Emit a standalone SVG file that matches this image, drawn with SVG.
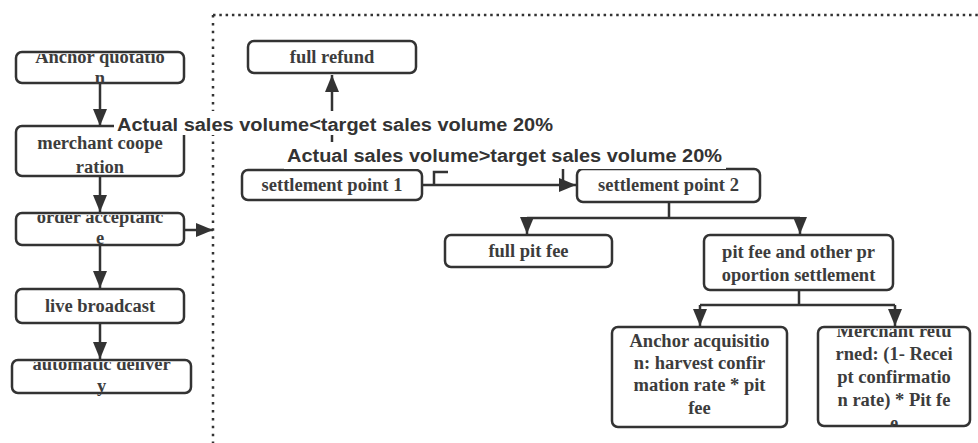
<svg xmlns="http://www.w3.org/2000/svg" width="978" height="443" viewBox="0 0 978 443">
<style>
.box{fill:#fff;stroke:#333;stroke-width:2.5}
.t{font-family:"Liberation Serif","Times New Roman",serif;font-weight:bold;font-size:18.5px;fill:#3c3c3c;text-anchor:middle}
.lbl{font-family:"Liberation Sans",Arial,sans-serif;font-weight:bold;font-size:18px;fill:#333}
.c{fill:none;stroke:#333;stroke-width:2.5}
.bg{fill:#fff}
</style>
<defs>
<marker id="ah" markerUnits="userSpaceOnUse" markerWidth="18" markerHeight="14" refX="17" refY="7" orient="auto">
<path d="M0,0 L17,7 L0,14 z" fill="#333"/>
</marker>
<clipPath id="cq"><rect x="14" y="54" width="172" height="31"/></clipPath>
<clipPath id="co"><rect x="14" y="215" width="172" height="31"/></clipPath>
<clipPath id="cd"><rect x="10" y="362" width="183" height="34"/></clipPath>
<clipPath id="cm"><rect x="816" y="329" width="156" height="98"/></clipPath>
</defs>

<g id="frame">
<line x1="213" y1="15" x2="978" y2="15" stroke="#333" stroke-width="2.5" stroke-dasharray="2.5 3.8"/>
<line x1="213" y1="15" x2="213" y2="443" stroke="#333" stroke-width="2.5" stroke-dasharray="2.5 5.4"/>
</g>

<g id="connectors">
<line class="c" x1="100" y1="84" x2="100" y2="126" marker-end="url(#ah)"/>
<line class="c" x1="100" y1="177" x2="100" y2="212" marker-end="url(#ah)"/>
<line class="c" x1="100" y1="246" x2="100" y2="288" marker-end="url(#ah)"/>
<line class="c" x1="100" y1="324" x2="100" y2="359" marker-end="url(#ah)"/>
<line class="c" x1="185" y1="230" x2="213" y2="230" marker-end="url(#ah)"/>
<line class="c" x1="332" y1="169" x2="332" y2="75" marker-end="url(#ah)"/>
<line class="c" x1="423" y1="185" x2="576" y2="185" marker-end="url(#ah)"/>
<path class="c" d="M434,185 V172 H448"/>
<path class="c" d="M563,168 V183"/>
<path class="c" d="M669,203 V218 M527,218 H800"/>
<line class="c" x1="527" y1="218" x2="527" y2="234" marker-end="url(#ah)"/>
<line class="c" x1="800" y1="218" x2="800" y2="234" marker-end="url(#ah)"/>
<path class="c" d="M799,291 V305 M700,305 H895"/>
<line class="c" x1="700" y1="305" x2="700" y2="326" marker-end="url(#ah)"/>
<line class="c" x1="895" y1="305" x2="895" y2="326" marker-end="url(#ah)"/>
</g>

<g id="anchor-quotation">
<rect class="box" x="16" y="52" width="168" height="31" rx="6"/>
<g clip-path="url(#cq)"><text class="t" x="100" y="63">Anchor quotatio</text><text class="t" x="100" y="84">n</text></g>
</g>
<g id="merchant-cooperation">
<rect class="box" x="16" y="126" width="168" height="50" rx="6"/>
<text class="t" x="100" y="149">merchant coope</text>
<text class="t" x="100" y="173">ration</text>
</g>
<g id="order-acceptance">
<rect class="box" x="16" y="213" width="168" height="32" rx="6"/>
<g clip-path="url(#co)"><text class="t" x="100" y="223">order acceptanc</text><text class="t" x="100" y="244">e</text></g>
</g>
<g id="live-broadcast">
<rect class="box" x="16" y="289" width="168" height="34" rx="6"/>
<text class="t" x="100" y="312">live broadcast</text>
</g>
<g id="automatic-delivery">
<rect class="box" x="12" y="360" width="179" height="33" rx="6"/>
<g clip-path="url(#cd)"><text class="t" x="101.5" y="370">automatic deliver</text><text class="t" x="101.5" y="392">y</text></g>
</g>

<g id="full-refund">
<rect class="box" x="248" y="41" width="168" height="32" rx="6"/>
<text class="t" x="332" y="63">full refund</text>
</g>
<g id="settlement-point-1">
<rect class="box" x="242" y="170" width="180" height="30" rx="6"/>
<text class="t" x="332" y="191">settlement point 1</text>
</g>
<g id="settlement-point-2">
<rect class="box" x="577" y="169" width="183" height="33" rx="6"/>
<text class="t" x="668.5" y="191">settlement point 2</text>
</g>
<g id="full-pit-fee">
<rect class="box" x="445" y="235" width="167" height="32" rx="6"/>
<text class="t" x="528.5" y="257">full pit fee</text>
</g>
<g id="pit-fee-proportion">
<rect class="box" x="704" y="235" width="189" height="55" rx="6"/>
<text class="t" x="798.5" y="258">pit fee and other pr</text>
<text class="t" x="798.5" y="281">oportion settlement</text>
</g>
<g id="anchor-acquisition">
<rect class="box" x="612" y="327" width="175" height="100" rx="6"/>
<text class="t" x="699.5" y="347">Anchor acquisitio</text>
<text class="t" x="699.5" y="369">n: harvest confir</text>
<text class="t" x="699.5" y="391">mation rate * pit</text>
<text class="t" x="699.5" y="414">fee</text>
</g>
<g id="merchant-returned">
<rect class="box" x="818" y="327" width="152" height="99" rx="6"/>
<g clip-path="url(#cm)">
<text class="t" x="894" y="337">Merchant retu</text>
<text class="t" x="894" y="360">rned: (1- Recei</text>
<text class="t" x="894" y="383">pt confirmatio</text>
<text class="t" x="894" y="406">n rate) * Pit fe</text>
<text class="t" x="894" y="429">e</text>
</g>
</g>

<g id="labels">
<rect class="bg" x="114" y="111" width="442" height="24"/>
<text class="lbl" x="117" y="131" textLength="436" lengthAdjust="spacingAndGlyphs">Actual sales volume&lt;target sales volume 20%</text>
<rect class="bg" x="284" y="142" width="442" height="27"/>
<text class="lbl" x="287" y="162" textLength="435" lengthAdjust="spacingAndGlyphs">Actual sales volume&gt;target sales volume 20%</text>
</g>
</svg>
